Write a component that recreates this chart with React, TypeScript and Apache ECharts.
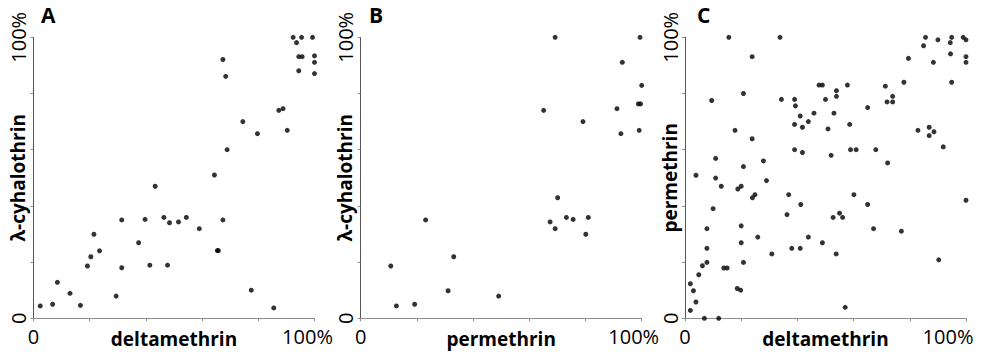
import React, { useEffect, useRef } from "react";
import * as echarts from "echarts";

// Panel A: deltamethrin (x) vs λ-cyhalothrin (y), percent
const deltaA = [2.4, 6.8, 8.5, 13.0, 16.7, 19.2, 20.4, 21.5, 23.5, 29.4, 31.4, 31.4, 37.4, 39.7, 41.4, 43.3, 46.4, 48.4, 47.7, 51.6, 54.4, 59.0, 64.4, 65.4, 65.8, 67.4, 67.4, 68.4, 68.9, 74.5, 77.5, 79.7, 85.5, 87.3, 88.8, 90.3, 92.4, 93.6, 95.4, 94.4, 95.6, 94.4, 99.3, 100, 100, 100];
const lambdaA = [4.4, 5.0, 12.8, 8.9, 4.6, 18.6, 21.9, 29.9, 24.0, 7.9, 35.0, 18.0, 26.9, 35.2, 18.9, 47.0, 35.9, 34.0, 18.9, 34.3, 35.9, 31.9, 51.0, 24.1, 24.1, 92.1, 35.0, 86.1, 60.0, 70.0, 10.0, 65.7, 3.7, 74.0, 74.6, 66.9, 100, 98.1, 100, 93.1, 93.1, 88.1, 100, 93.4, 91.1, 87.1];

// Panel B: permethrin (x) vs λ-cyhalothrin (y)
const permB = [10.7, 12.7, 19.2, 23.1, 31.1, 33.1, 49.1, 65.1, 69.2, 67.4, 69.2, 70.1, 73.2, 75.6, 79.1, 80.1, 81.0, 91.2, 92.6, 93.1, 98.8, 99.6, 99.1, 99.4, 100];
const lambdaB = [18.6, 4.4, 5.0, 35.0, 9.8, 21.9, 7.9, 74.0, 100, 34.3, 31.9, 42.9, 35.9, 35.2, 70.0, 29.9, 35.9, 74.6, 65.7, 91.1, 76.3, 76.3, 66.9, 100, 82.9];

// Panel C: deltamethrin (x) vs permethrin (y)
const deltaC = [1.9, 1.9, 3.0, 3.9, 3.9, 4.9, 6.9, 6.2, 7.8, 7.8, 7.8, 9.5, 10.0, 10.9, 10.9, 12.0, 12.9, 13.8, 15.0, 15.6, 17.8, 18.8, 18.6, 19.8, 20.0, 20.0, 20.0, 20.8, 20.8, 20.8, 23.9, 23.9, 24.0, 24.9, 25.9, 27.9, 29.0, 30.9, 33.8, 34.3, 36.3, 36.9, 38.0, 39.0, 39.3, 39.0, 39.0, 41.0, 41.0, 41.2, 41.8, 41.8, 43.9, 43.9, 45.9, 47.7, 48.9, 48.9, 50.0, 50.9, 52.0, 52.7, 53.0, 53.9, 53.9, 53.8, 55.0, 56.1, 57.0, 57.8, 58.6, 58.9, 60.1, 60.9, 65.0, 65.0, 67.1, 67.9, 71.3, 71.9, 72.1, 73.9, 73.9, 77.0, 77.9, 79.5, 82.9, 84.9, 85.6, 86.9, 86.9, 88.4, 88.6, 90.0, 90.3, 91.9, 94.5, 94.4, 94.9, 94.9, 99.0, 100, 100, 100, 100];
const permC = [2.8, 12.3, 9.8, 5.8, 50.9, 15.5, 0, 18.7, 19.9, 24.9, 31.9, 77.5, 39.0, 56.9, 49.9, 0, 47.0, 17.9, 17.9, 100, 66.9, 46.0, 10.6, 10.0, 47.0, 32.9, 26.9, 19.9, 54.0, 80.0, 63.9, 93.1, 42.9, 44.0, 28.9, 56.0, 49.0, 22.9, 100, 77.9, 36.9, 44.0, 24.9, 77.9, 75.6, 69.0, 60.0, 24.9, 72.0, 40.5, 68.0, 59.0, 70.0, 28.9, 73.0, 83.0, 83.0, 26.9, 77.9, 67.4, 58.0, 35.9, 73.0, 81.0, 79.0, 22.9, 37.4, 35.9, 3.9, 83.0, 69.0, 60.0, 44.0, 60.0, 75.0, 40.5, 31.9, 60.0, 82.6, 77.0, 55.3, 77.0, 79.0, 31.0, 84.0, 92.5, 66.9, 97.0, 100, 68.0, 65.0, 91.1, 66.4, 99.1, 20.8, 61.0, 94.1, 98.1, 100, 84.0, 100, 99.1, 93.1, 91.1, 42.0];

const panelLetters = ["A", "B", "C"];
const xNames = ["deltamethrin", "permethrin", "deltamethrin"];
const yNames = ["λ-cyhalothrin", "λ-cyhalothrin", "permethrin"];
const tickMin = 0;
const tickMax = 100;
const tickStep = 20;

const FONT = "'Open Sans', 'DejaVu Sans', sans-serif";

export default function App() {
  const ref = useRef<HTMLDivElement>(null);
  useEffect(() => {
    document.body.style.margin = "0";
    if (!ref.current) return;
    const chart = echarts.init(ref.current, undefined, { renderer: "svg" });
    const zip = (a: number[], b: number[]) => a.map((v, i) => [v, b[i]]);
    const datasets = [zip(deltaA, lambdaA), zip(permB, lambdaB), zip(deltaC, permC)];
    const lefts = [33.5, 360.7, 685];
    const spacer = [14, 16, 36];
    const letterX = [41, 369, 697];
    const grids = lefts.map((l) => ({
      left: l,
      top: 37.3,
      width: 281,
      height: 281,
      containLabel: false,
      outerBoundsMode: "none",
    }));
    const xAxes = lefts.map((_, i) => ({
      type: "value",
      gridIndex: i,
      min: tickMin,
      max: tickMax,
      interval: tickStep,
      name: xNames[i],
      nameLocation: "middle",
      nameGap: 11,
      nameMoveOverlap: false,
      nameTextStyle: { fontFamily: FONT, fontWeight: "bold", fontSize: 19, color: "#000", verticalAlign: "top" },
      axisLine: { lineStyle: { color: "#8c8c8c", width: 1 } },
      axisTick: { show: true, length: 3, lineStyle: { color: "#8c8c8c" } },
      splitLine: { show: false },
      axisLabel: {
        margin: 8,
        fontFamily: FONT,
        fontSize: 20,
        color: "#000",
        formatter: (v: number) => (v === tickMin ? "0" : v === tickMax ? "{r|100%}{s|\u00a0}" : ""),
        rich: {
          r: { fontFamily: FONT, fontSize: 20, color: "#000" },
          s: { width: spacer[i], fontFamily: FONT, fontSize: 20, color: "#000" },
        },
      },
    }));
    const yAxes = lefts.map((_, i) => ({
      type: "value",
      gridIndex: i,
      min: tickMin,
      max: tickMax,
      interval: tickStep,
      name: yNames[i],
      nameLocation: "middle",
      nameGap: 6,
      nameMoveOverlap: false,
      nameTextStyle: { fontFamily: FONT, fontWeight: "bold", fontSize: 19, color: "#000" },
      axisLine: { lineStyle: { color: "#555", width: 1 } },
      axisTick: { show: true, length: 3, lineStyle: { color: "#8c8c8c" } },
      splitLine: { show: false },
      axisLabel: {
        rotate: 90,
        margin: 5,
        fontFamily: FONT,
        fontSize: 20,
        color: "#000",
        formatter: (v: number) => (v === tickMin ? "0" : v === tickMax ? "100%" : ""),
      },
    }));
    const series = datasets.map((d, i) => ({
      type: "scatter",
      xAxisIndex: i,
      yAxisIndex: i,
      data: d,
      symbol: "circle",
      symbolSize: 5,
      itemStyle: { color: "#000" },
    }));
    chart.setOption({
      animation: false,
      grid: grids,
      xAxis: xAxes,
      yAxis: yAxes,
      series,
      graphic: panelLetters.map((t, i) => ({
        type: "text",
        left: letterX[i],
        top: 4,
        style: { text: t, fontFamily: FONT, fontWeight: "bold", fontSize: 21, fill: "#000" },
      })),
    });
    return () => chart.dispose();
  }, []);
  return <div ref={ref} style={{ width: 984, height: 358 }} />;
}
